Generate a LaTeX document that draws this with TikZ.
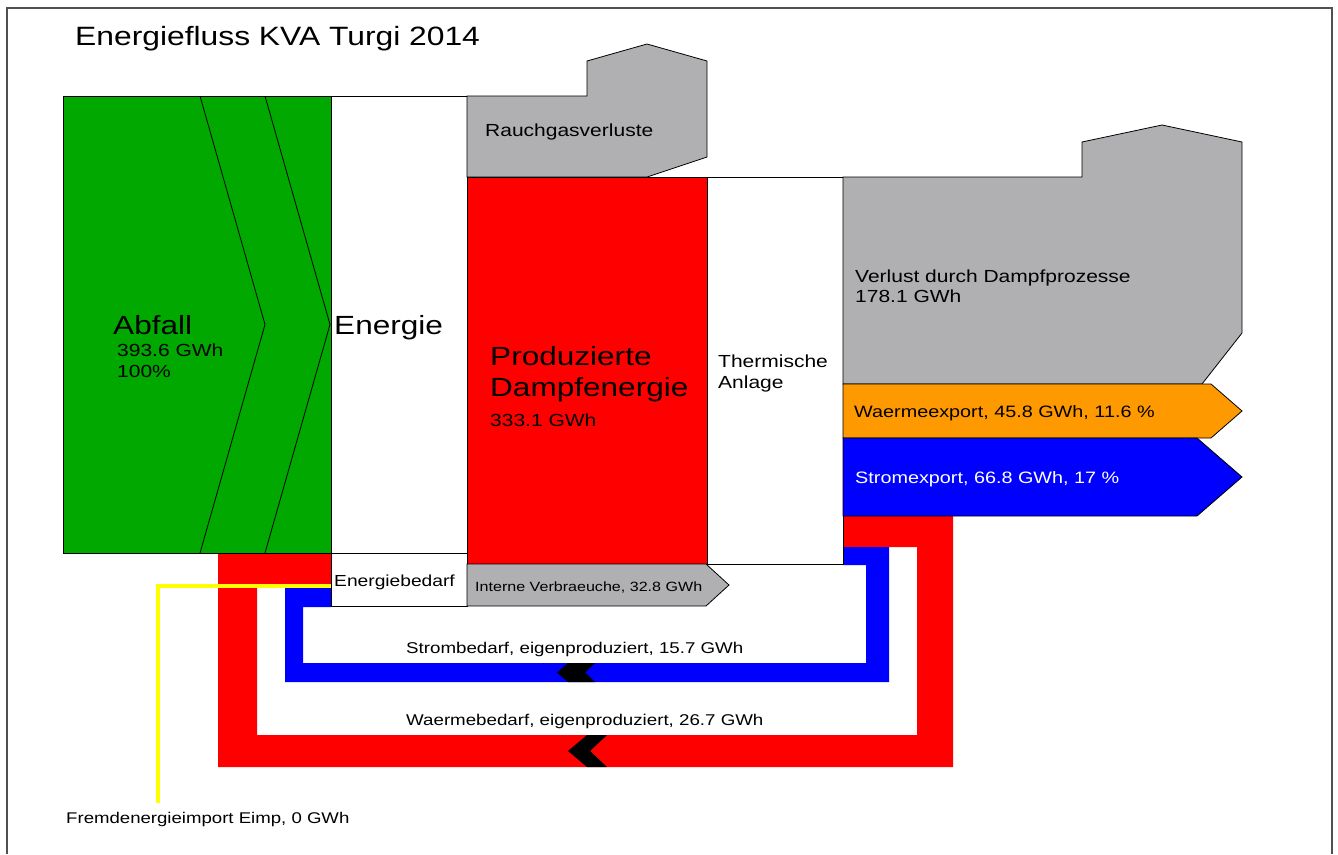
\documentclass[tikz,border=0pt]{standalone}
\usepackage{fontspec}
\setmainfont[FakeStretch=1.2]{Liberation Sans}
\definecolor{kgreen}{RGB}{0,168,0}
\definecolor{kgray}{RGB}{176,176,178}
\definecolor{korange}{RGB}{255,153,0}
\definecolor{kred}{RGB}{255,0,0}
\definecolor{kblue}{RGB}{0,0,255}
\definecolor{kyellow}{RGB}{255,255,0}
\definecolor{kframe}{RGB}{80,80,80}
\tikzset{
  outl/.style={draw=black, line width=0.8pt, line join=miter},
  lbl/.style={anchor=base west, inner sep=0pt, font=\fontsize{17.5}{21}\selectfont},
  lblexp/.style={anchor=base west, inner sep=0pt, font=\fontsize{16.5}{20}\selectfont},
  lblloop/.style={anchor=base west, inner sep=0pt, font=\fontsize{15.6}{19}\selectfont},
  lblsmall/.style={anchor=base west, inner sep=0pt, font=\fontsize{16}{19}\selectfont},
  lbltiny/.style={anchor=base west, inner sep=0pt, font=\fontsize{13.4}{16}\selectfont},
  lblbig/.style={anchor=base west, inner sep=0pt, font=\fontsize{26.3}{30}\selectfont},
  chev/.style={fill=black},
}
\begin{document}
\begin{tikzpicture}[x=1pt,y=-1pt]
\useasboundingbox (0,0) rectangle (1338,854);
% frame
\draw[kframe, line width=1.6pt] (7,854) -- (7,8) -- (1332,8) -- (1332,854);
% title
\node[lblbig, font=\fontsize{26.5}{30}\selectfont] (title) at (75,45) {Energiefluss KVA Turgi 2014};

% loops
\fill[kred] (843,516) -- (953,516) -- (953,767) -- (218,767) -- (218,553) -- (331,553) -- (331,587) -- (257,587) -- (257,735) -- (917,735) -- (917,547) -- (843,547) -- cycle;
\fill[kblue] (843,547) -- (889,547) -- (889,682) -- (285,682) -- (285,587) -- (331,587) -- (331,607) -- (303,607) -- (303,663) -- (866,663) -- (866,565) -- (843,565) -- cycle;
\fill[chev] (568,663) -- (595,663) -- (585,672.5) -- (595,682) -- (568,682) -- (557,672.5) -- cycle;
\fill[chev] (587,735) -- (607,735) -- (590,751) -- (607,767) -- (587,767) -- (568,751) -- cycle;
% yellow import line
\draw[kyellow, line width=4.5pt] (331,586) -- (158,586) -- (158,803);

% Abfall
\fill[kgreen] (63,96) rectangle (331,553);
\draw[outl] (63,96) rectangle (331,553);
\draw[black, line width=0.8pt] (200,96) -- (265,324.5) -- (200,553);
\draw[black, line width=0.8pt] (265,96) -- (330,324.5) -- (265,553);

% Energie
\draw[outl, fill=white] (331,96) rectangle (467,553);
\draw[outl, fill=white] (331,553) rectangle (467,606);

% Rauchgasverluste
\draw[outl, fill=kgray] (467,96) -- (587,96) -- (587,61) -- (647,44) -- (707,61) -- (707,157) -- (647,177) -- (467,177) -- cycle;

% Produzierte Dampfenergie
\draw[outl, fill=kred] (467,177) rectangle (707,564);
% Thermische Anlage
\draw[outl, fill=white] (707,177) rectangle (843,564);
% Interne Verbraeuche
\draw[outl, fill=kgray] (467,564) -- (706,564) -- (729,585) -- (706,606) -- (467,606) -- cycle;

% Verlust durch Dampfprozesse
\draw[outl, fill=kgray] (843,177) -- (1082,177) -- (1082,142) -- (1162,125) -- (1242,142) -- (1242,333) -- (1202,384) -- (843,384) -- cycle;
% Waermeexport
\draw[outl, fill=korange] (843,384) -- (1211,384) -- (1242,411) -- (1211,438) -- (843,438) -- cycle;
% Stromexport
\draw[outl, fill=kblue] (843,438) -- (1197,438) -- (1242,477) -- (1197,516) -- (843,516) -- cycle;

% labels
\node[lblbig] (abfall) at (113,334) {Abfall};
\node[lbl] (abfallv) at (117,356) {393.6 GWh};
\node[lbl] (abfallp) at (117,377) {100\%};
\node[lblbig] (energie) at (334,334) {Energie};
\node[lblsmall] (bedarf) at (334,586) {Energiebedarf};
\node[lbl] (rauch) at (485,136) {Rauchgasverluste};
\node[lblbig] (prod1) at (490,365) {Produzierte};
\node[lblbig] (prod2) at (490,396) {Dampfenergie};
\node[lbl] (prodv) at (490,426) {333.1 GWh};
\node[lbl] (therm1) at (718,367) {Thermische};
\node[lbl] (therm2) at (718,388) {Anlage};
\node[lbltiny] (interne) at (475,591) {Interne Verbraeuche, 32.8 GWh};
\node[lbl] (verl1) at (855,282) {Verlust durch Dampfprozesse};
\node[lbl] (verl2) at (855,302) {178.1 GWh};
\node[lblexp] (wexp) at (854,417) {Waermeexport, 45.8 GWh, 11.6 \%};
\node[lblexp, text=white] (sexp) at (855,483) {Stromexport, 66.8 GWh, 17 \%};
\node[lblloop] (sbed) at (406,653) {Strombedarf, eigenproduziert, 15.7 GWh};
\node[lblloop] (wbed) at (406,725) {Waermebedarf, eigenproduziert, 26.7 GWh};
\node[lblloop, font=\fontsize{15.5}{19}\selectfont] (fremd) at (66,823) {Fremdenergieimport Eimp, 0 GWh};
\end{tikzpicture}
\end{document}
